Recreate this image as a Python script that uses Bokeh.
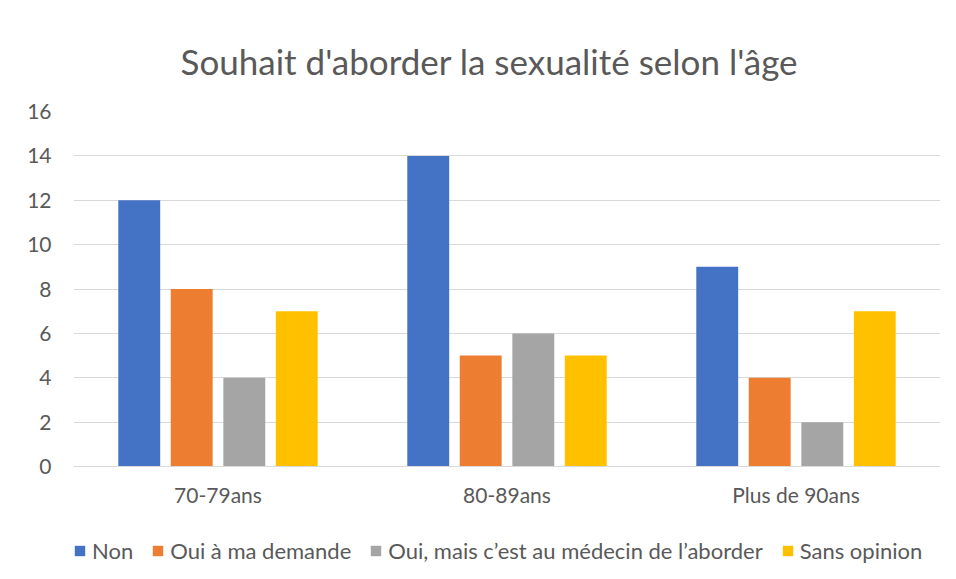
from bokeh.plotting import figure
from bokeh.models import Range1d, Legend, LegendItem
from bokeh.layouts import column
from bokeh.transform import dodge
from bokeh.models import ColumnDataSource
from bokeh.embed import file_html
from bokeh.resources import INLINE

groups = ["70-79ans", "80-89ans", "Plus de 90ans"]
series_names = ["Non", "Oui à ma demande", "Oui, mais c\u2019est au médecin de l\u2019aborder", "Sans opinion"]
non = [12, 14, 9]
oui_demande = [8, 5, 4]
oui_medecin = [4, 6, 2]
sans_opinion = [7, 5, 7]
colors = ["#4472C4", "#ED7D31", "#A5A5A5", "#FFC000"]
y_ticks = [0, 2, 4, 6, 8, 10, 12, 14, 16]

FONT = "Lato"
TXT = "#595959"

source = ColumnDataSource(dict(groups=groups, non=non, oui_demande=oui_demande,
                               oui_medecin=oui_medecin, sans_opinion=sans_opinion))

p = figure(x_range=groups, y_range=Range1d(0, 16), frame_width=867, frame_height=355,
           output_backend="svg", toolbar_location=None,
           min_border_left=73, min_border_right=16, min_border_top=111, min_border_bottom=40)

p.title.text = "Souhait d'aborder la sexualité selon l'âge"
p.title.align = "left"
p.title.offset = 107
p.title.text_font = FONT
p.title.text_font_style = "normal"
p.title.text_font_size = "35px"
p.title.text_color = TXT
p.title.standoff = 60

cols = ["non", "oui_demande", "oui_medecin", "sans_opinion"]
offsets = [-0.2725, -0.091, 0.091, 0.2725]
for c, off, col in zip(cols, offsets, colors):
    p.vbar(x=dodge("groups", off, range=p.x_range), top=c, width=0.145,
           source=source, fill_color=col, line_color=None)

p.outline_line_color = None
p.xgrid.grid_line_color = None
p.ygrid.grid_line_color = "#D9D9D9"
p.ygrid.grid_line_width = 1
p.yaxis.ticker = y_ticks
p.yaxis.axis_line_color = None
p.yaxis.major_tick_line_color = None
p.yaxis.minor_tick_line_color = None
p.yaxis.major_label_text_font = FONT
p.yaxis.major_label_text_font_size = "21px"
p.yaxis.major_label_text_color = TXT
p.yaxis.major_label_standoff = 16

p.xaxis.axis_line_color = "#D9D9D9"
p.xaxis.major_tick_line_color = None
p.xaxis.minor_tick_line_color = None
p.xaxis.major_label_text_font = FONT
p.xaxis.major_label_text_font_size = "21px"
p.xaxis.major_label_text_color = TXT
p.xaxis.major_label_standoff = 9

# Legend strip below the chart (bars here lie outside the visible y range)
lg = figure(x_range=p.x_range, y_range=Range1d(100, 101), width=956, height=73,
            output_backend="svg", toolbar_location=None, min_border=0)
lg.axis.visible = False
lg.grid.grid_line_color = None
lg.outline_line_color = None
items = []
for c, off, col, name in zip(cols, offsets, colors, series_names):
    r = lg.vbar(x=dodge("groups", off, range=lg.x_range), top=c, width=0.145,
                source=source, fill_color=col, line_color=None)
    items.append(LegendItem(label=name, renderers=[r]))
legend = Legend(items=items, orientation="horizontal", location=(0, 18),
                label_text_font=FONT, label_text_font_size="22px", label_text_color=TXT,
                glyph_width=13, glyph_height=13, spacing=18, label_standoff=6,
                border_line_color=None, background_fill_alpha=0, padding=0, margin=0)
lg.add_layout(legend, "center")

layout = column(p, lg, spacing=0)
open("out.html", "w").write(file_html(layout, INLINE))
